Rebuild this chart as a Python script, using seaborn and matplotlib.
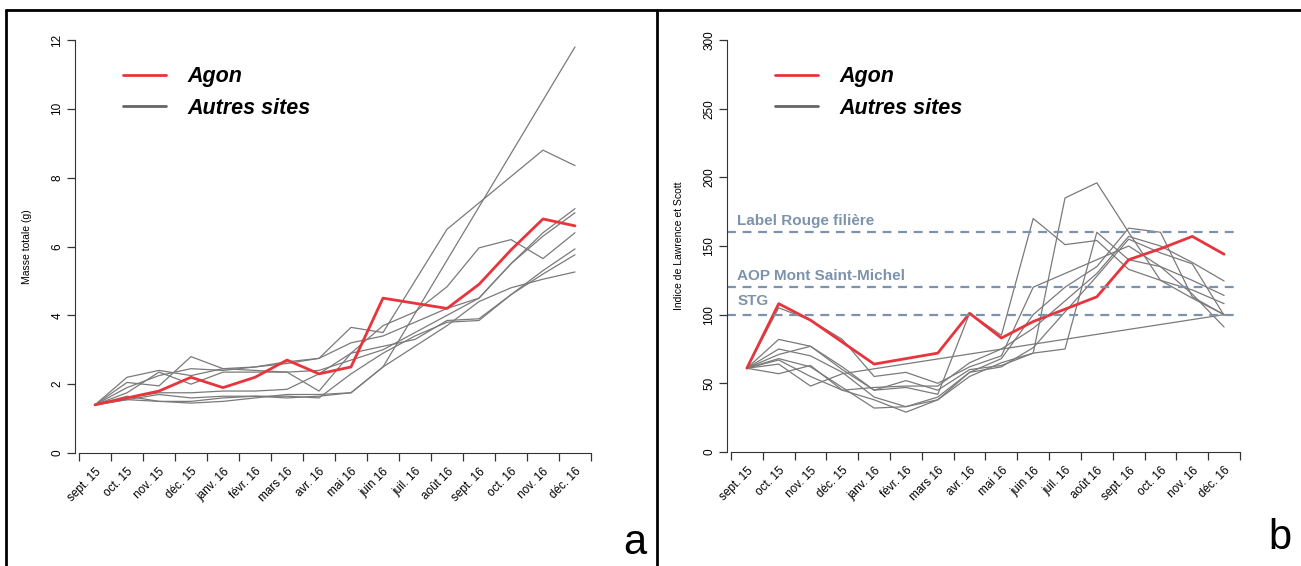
import numpy as np
import pandas as pd
import matplotlib
matplotlib.use("Agg")
import matplotlib.pyplot as plt
from matplotlib.lines import Line2D
import seaborn as sns

sns.set_style("ticks")
plt.rcParams["font.family"] = ["Liberation Sans", "DejaVu Sans"]
plt.rcParams.update({"text.color": "black", "axes.labelcolor": "black",
                     "xtick.color": "black", "ytick.color": "black"})

NA = np.nan

mois = ["sept. 15", "oct. 15", "nov. 15", "déc. 15", "janv. 16", "févr. 16",
        "mars 16", "avr. 16", "mai 16", "juin 16", "juil. 16", "août 16",
        "sept. 16", "oct. 16", "nov. 16", "déc. 16"]

# Masse totale (g)
masse_agon = [1.4, 1.6, 1.8, 2.2, 1.9, 2.2, 2.7, 2.3, 2.5, 4.5, 4.35, 4.2, 4.9, 5.9, 6.8, 6.6]
masse_s1 = [1.4, 1.65, 1.5, 1.5, 1.6, 1.65, 1.6, 1.65, 1.75, 2.5, NA, NA, NA, NA, NA, 11.8]
masse_s2 = [1.4, 2.2, 2.4, 2.25, 2.45, 2.5, 2.6, 2.75, 3.65, 3.5, NA, 6.5, NA, NA, 8.8, 8.35]
masse_s3 = [1.4, 2.05, 1.95, 2.8, 2.45, 2.4, 2.35, 1.8, 2.9, 3.7, 4.1, 4.83, 5.96, 6.2, 5.65, 6.4]
masse_s4 = [1.4, 1.9, 2.25, 2.45, 2.4, 2.5, 2.65, 2.75, 3.2, 3.4, 3.8, 4.2, 4.5, 5.5, 6.4, 7.1]
masse_s5 = [1.4, 1.75, 2.35, 2.0, 2.35, 2.35, 2.35, 2.4, 2.7, 3.0, 3.5, 4.0, 4.5, 5.5, 6.3, 6.98]
masse_s6 = [1.4, 1.6, 1.75, 1.75, 1.8, 1.8, 1.85, 2.3, 2.9, 3.1, 3.3, 3.85, 3.9, 4.6, 5.3, 5.93]
masse_s7 = [1.4, 1.55, 1.7, 1.6, 1.65, 1.65, 1.65, 1.6, 2.3, 2.9, 3.4, 3.8, 3.85, 4.6, 5.2, 5.76]
masse_s8 = [1.4, 1.55, 1.5, 1.45, 1.5, 1.6, 1.7, 1.7, 1.75, 2.5, 3.1, 3.7, 4.4, 4.8, 5.05, 5.26]

# Indice de Lawrence et Scott
indice_agon = [61, 108, 96, 80, 64, 68, 72, 101, 83, 95, 104, 113, 140, 148, 157, 144]
indice_s1 = [61, 105, 96, 82, 55, 58, 50, 62, 70, 120, 130, 140, 150, 135, 125, 114]
indice_s2 = [61, 82, 77, 60, 45, 47, 42, 101, 85, 170, 151, 154, 133, 125, 118, 108]
indice_s3 = [61, 75, 70, 58, 40, 33, 38, 55, 65, 72, 185, 196, 160, 125, 112, 100]
indice_s4 = [61, 71, 77, 62, 45, 52, 45, 60, 63, 72, 75, 160, 140, 135, 115, 91]
indice_s5 = [61, 68, 62, 47, 32, 33, 40, 58, 68, 100, 120, 135, 163, 160, 113, 100]
indice_s6 = [61, 64, 48, 57, NA, NA, NA, NA, NA, NA, NA, NA, NA, NA, NA, 100]
indice_s7 = [61, 57, 63, 45, 47, 48, 48, 65, 75, 90, 110, 130, 157, 150, 138, 124.5]
indice_s8 = [61, 67, 55, 45, 38, 29, 38, 58, 62, 76, NA, 128, 155, 145, 137, 99.5]

seuils = [160, 120, 100]
seuils_noms = ["Label Rouge filière", "AOP Mont Saint-Michel", "STG"]

RED = "#e8343c"
GREY = "#7a7a7a"
REF = "#7d93ab"


def long_table(series):
    rows = []
    for name, vals in series.items():
        for i, v in enumerate(vals):
            if not np.isnan(v):
                rows.append({"site": name, "mois": i, "val": v})
    return pd.DataFrame(rows)


fig = plt.figure(figsize=(13.01, 5.66), dpi=100)
W, H = 1301, 566


def add_panel(x0, x1, ytop, ybot):
    return fig.add_axes([x0 / W, 1 - ybot / H, (x1 - x0) / W, (ybot - ytop) / H])


ax_a = add_panel(75, 591, 40, 453)
ax_b = add_panel(727, 1240, 40, 452)


def style_axis(ax, ymax, ystep, ylabel):
    ax.set_xlim(-0.625, 15.5)
    ax.set_ylim(0, ymax)
    ax.set_yticks(np.arange(0, ymax + 1e-9, ystep))
    ax.set_yticklabels([f"{int(v)}" for v in np.arange(0, ymax + 1e-9, ystep)],
                       rotation=90, va="center", fontsize=8.5)
    ax.set_xticks(np.arange(16))
    ax.set_xticklabels(mois, rotation=45, ha="right", va="top",
                       rotation_mode="anchor", fontsize=8.5)
    ax.set_xticks(np.arange(-0.5, 16, 1.0), minor=True)
    ax.tick_params(axis="x", which="major", length=0, pad=9)
    ax.tick_params(axis="x", which="minor", length=5.5, width=0.9, color="#333333")
    ax.tick_params(axis="y", length=5.5, width=0.9, color="#333333", pad=3)
    for s in ["top", "right"]:
        ax.spines[s].set_visible(False)
    ax.spines["left"].set_bounds(0, ymax)
    ax.spines["bottom"].set_bounds(-0.5, 15.5)
    ax.spines["left"].set_color("#333333")
    ax.spines["bottom"].set_color("#333333")
    ax.set_xlabel("")
    ax.set_ylabel(ylabel, fontsize=7.5, labelpad=14)
    ax.set_facecolor("white")


def draw_panel(ax, agon, autres):
    others = long_table(autres)
    sns.lineplot(data=others, x="mois", y="val", units="site", estimator=None,
                 color=GREY, linewidth=0.9, ax=ax, legend=False)
    red = long_table({"Agon": agon})
    sns.lineplot(data=red, x="mois", y="val", color=RED, linewidth=2.0,
                 ax=ax, legend=False)
    handles = [Line2D([], [], color=RED, lw=2.0),
               Line2D([], [], color="#666666", lw=2.0)]
    ax.legend(handles, ["Agon", "Autres sites"], loc="upper left",
              bbox_to_anchor=(0.055, 0.983), frameon=False,
              handlelength=2.0, handletextpad=1.0, labelspacing=0.48,
              labelcolor="black",
              prop={"weight": "bold", "style": "italic", "size": 15.5})


draw_panel(ax_a, masse_agon, {
    "s1": masse_s1, "s2": masse_s2, "s3": masse_s3, "s4": masse_s4,
    "s5": masse_s5, "s6": masse_s6, "s7": masse_s7, "s8": masse_s8})
style_axis(ax_a, 12, 2, "Masse totale (g)")

draw_panel(ax_b, indice_agon, {
    "s1": indice_s1, "s2": indice_s2, "s3": indice_s3, "s4": indice_s4,
    "s5": indice_s5, "s6": indice_s6, "s7": indice_s7, "s8": indice_s8})
style_axis(ax_b, 300, 50, "Indice de Lawrence et Scott")

offsets = [5.5, 5.5, 7]
for y, nom, off in zip(seuils, seuils_noms, offsets):
    ax_b.hlines(y, -0.626, 15.5, colors=REF, linestyles=(0, (4, 3)), linewidth=1.6)
    ax_b.text(-0.3, y + off, nom, color=REF, fontsize=11, fontweight="bold",
              va="baseline", ha="left")

# panel frame and letters
frame = dict(color="black", lw=2.0, transform=fig.transFigure, clip_on=False)
fig.add_artist(Line2D([6 / W, 1], [1 - 10 / H, 1 - 10 / H], **frame))
fig.add_artist(Line2D([6 / W, 6 / W], [0, 1 - 10 / H], **frame))
fig.add_artist(Line2D([657 / W, 657 / W], [0, 1 - 10 / H], **frame))
fig.text(635 / W, 1 - 543 / H, "a", fontsize=30, ha="center", va="center")
fig.text(1280 / W, 1 - 538 / H, "b", fontsize=30, ha="center", va="center")

fig.savefig("out.png", dpi=100, facecolor="white")
